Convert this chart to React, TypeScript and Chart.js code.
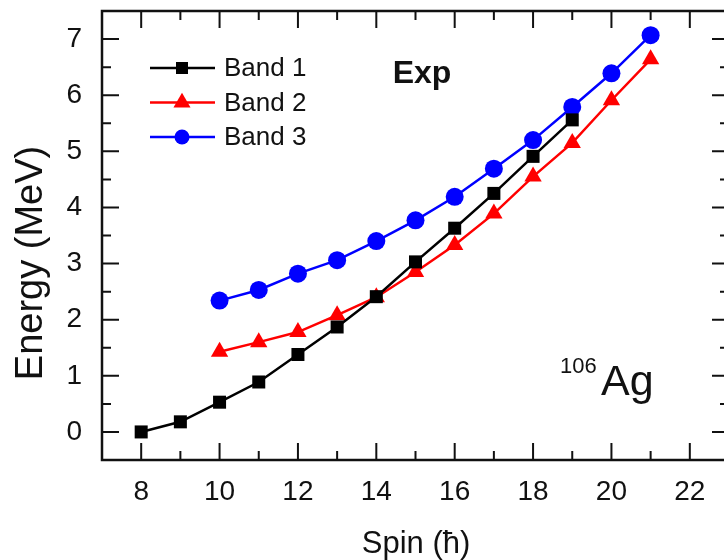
import React, { useEffect, useRef } from "react";
import { Chart, registerables } from "chart.js";

Chart.register(...registerables);

// ---- data ----
const spinBand1 = [8, 9, 10, 11, 12, 13, 14, 15, 16, 17, 18, 19];
const energyBand1 = [0, 0.18, 0.53, 0.89, 1.38, 1.87, 2.41, 3.03, 3.63, 4.25, 4.91, 5.56];
const spinBand23 = [10, 11, 12, 13, 14, 15, 16, 17, 18, 19, 20, 21];
const energyBand2 = [1.43, 1.6, 1.78, 2.08, 2.4, 2.85, 3.33, 3.89, 4.55, 5.15, 5.91, 6.64];
const energyBand3 = [2.34, 2.53, 2.82, 3.06, 3.4, 3.77, 4.19, 4.69, 5.2, 5.79, 6.39, 7.07];
const seriesLabels = ["Band 1", "Band 2", "Band 3"];
const seriesColors = ["#000000", "#ff0000", "#0000ff"];
const seriesMarkers = ["rect", "triangle", "circle"];
const xRange = [7, 23];
const yRange = [-0.5, 7.5];
const xTitle = "Spin (\u0127)";
const yTitle = "Energy (MeV)";
const panelLabel = "Exp";
const nucleusMass = "106";
const nucleusSymbol = "Ag";

const FONT = '"Liberation Sans", Arial, Helvetica, sans-serif';
const TEXT = "#111111";

function toPoints(xs: number[], ys: number[]) {
  return xs.map((x, i) => ({ x, y: ys[i] }));
}

function drawMarker(ctx: CanvasRenderingContext2D, style: string, x: number, y: number, s: number, color: string) {
  ctx.save();
  ctx.fillStyle = color;
  ctx.beginPath();
  if (style === "rect") {
    ctx.rect(x - s / 2, y - s / 2, s, s);
  } else if (style === "triangle") {
    const r = s * 0.58;
    ctx.moveTo(x, y - r);
    ctx.lineTo(x + r * 0.866, y + r / 2);
    ctx.lineTo(x - r * 0.866, y + r / 2);
    ctx.closePath();
  } else {
    ctx.arc(x, y, s / 2, 0, Math.PI * 2);
  }
  ctx.fill();
  ctx.restore();
}

const framePlugin = {
  id: "frameTicks",
  afterDraw(chart: any) {
    const { ctx, chartArea: a, scales } = chart;
    const xs = scales.x;
    const ys = scales.y;
    ctx.save();
    ctx.strokeStyle = "#111111";
    ctx.lineWidth = 2;
    const major = 17;
    const minor = 9;
    xs.ticks.forEach((t: any) => {
      const px = xs.getPixelForValue(t.value);
      const len = t.value % 2 === 0 ? major : minor;
      ctx.beginPath();
      ctx.moveTo(px, a.bottom);
      ctx.lineTo(px, a.bottom - len);
      ctx.moveTo(px, a.top);
      ctx.lineTo(px, a.top + len);
      ctx.stroke();
    });
    ys.ticks.forEach((t: any) => {
      const py = ys.getPixelForValue(t.value);
      const len = Number.isInteger(t.value) ? major : minor;
      ctx.beginPath();
      ctx.moveTo(a.left, py);
      ctx.lineTo(a.left + len, py);
      ctx.moveTo(a.right, py);
      ctx.lineTo(a.right - len, py);
      ctx.stroke();
    });
    ctx.lineWidth = 2.5;
    ctx.strokeRect(a.left, a.top, a.right - a.left, a.bottom - a.top);

    // axis titles
    ctx.fillStyle = TEXT;
    ctx.textAlign = "center";
    ctx.textBaseline = "alphabetic";
    ctx.font = `31px ${FONT}`;
    ctx.fillText(xTitle, 416, 553);
    ctx.save();
    ctx.translate(42, 263);
    ctx.rotate(-Math.PI / 2);
    ctx.font = `38px ${FONT}`;
    ctx.fillText(yTitle, 0, 0);
    ctx.restore();

    // legend
    ctx.textAlign = "left";
    ctx.textBaseline = "middle";
    ctx.font = `26px ${FONT}`;
    const sizes = [12, 17, 15];
    seriesLabels.forEach((lab, i) => {
      const y = a.top + 57 + i * 34.5;
      ctx.strokeStyle = seriesColors[i];
      ctx.lineWidth = 2.5;
      ctx.beginPath();
      ctx.moveTo(150, y);
      ctx.lineTo(215, y);
      ctx.stroke();
      drawMarker(ctx, seriesMarkers[i], 182, y, sizes[i], seriesColors[i]);
      ctx.fillStyle = TEXT;
      ctx.fillText(lab, 224, y + 1);
    });

    // annotations
    ctx.textBaseline = "alphabetic";
    ctx.textAlign = "center";
    ctx.font = `bold 32px ${FONT}`;
    ctx.fillText(panelLabel, 422, 83);
    ctx.textAlign = "left";
    ctx.font = `22px ${FONT}`;
    ctx.fillText(nucleusMass, 560, 373);
    ctx.font = `43px ${FONT}`;
    ctx.fillText(nucleusSymbol, 601, 395);
    ctx.restore();
  },
};

export default function App() {
  const ref = useRef<HTMLCanvasElement | null>(null);
  useEffect(() => {
    if (!ref.current) return;
    const datasets = [
      toPoints(spinBand1, energyBand1),
      toPoints(spinBand23, energyBand2),
      toPoints(spinBand23, energyBand3),
    ].map((pts, i) => ({
      label: seriesLabels[i],
      data: pts,
      borderColor: seriesColors[i],
      backgroundColor: seriesColors[i],
      pointBackgroundColor: seriesColors[i],
      pointBorderColor: seriesColors[i],
      pointStyle: seriesMarkers[i],
      pointRadius: [9.2, 10, 9][i],
      pointBorderWidth: 0,
      borderWidth: 2.5,
      tension: 0,
    }));
    const chart = new Chart(ref.current, {
      type: "line",
      data: { datasets: datasets as any },
      plugins: [framePlugin],
      options: {
        animation: false,
        responsive: false,
        devicePixelRatio: 1,
        layout: { autoPadding: false, padding: { top: 11, right: 1, left: 0, bottom: 0 } },
        plugins: { legend: { display: false }, tooltip: { enabled: false } },
        scales: {
          x: {
            type: "linear",
            min: xRange[0],
            max: xRange[1],
            grid: { display: false, drawTicks: false },
            border: { display: false },
            afterFit: (s: any) => {
              s.height = 100;
              s.paddingLeft = 0;
              s.paddingRight = 0;
            },
            ticks: {
              stepSize: 1,
              autoSkip: false,
              maxRotation: 0,
              padding: 15,
              color: TEXT,
              font: { size: 28, family: FONT },
              callback: (v: any) => (Number(v) % 2 === 0 ? String(v) : ""),
            },
          },
          y: {
            type: "linear",
            min: yRange[0],
            max: yRange[1],
            grid: { display: false, drawTicks: false },
            border: { display: false },
            afterFit: (s: any) => {
              s.width = 102;
              s.paddingTop = 0;
              s.paddingBottom = 0;
            },
            ticks: {
              stepSize: 0.5,
              autoSkip: false,
              padding: 20,
              color: TEXT,
              font: { size: 28, family: FONT },
              callback: (v: any) => (Number.isInteger(Number(v)) ? String(v) : ""),
            },
          },
        },
      } as any,
    });
    return () => chart.destroy();
  }, []);
  return (
    <div style={{ position: "fixed", left: 0, top: 0, width: 724, height: 560, overflow: "hidden", background: "#fff" }}>
      <canvas ref={ref} width={730} height={560} style={{ display: "block", width: 730, height: 560 }} />
    </div>
  );
}
